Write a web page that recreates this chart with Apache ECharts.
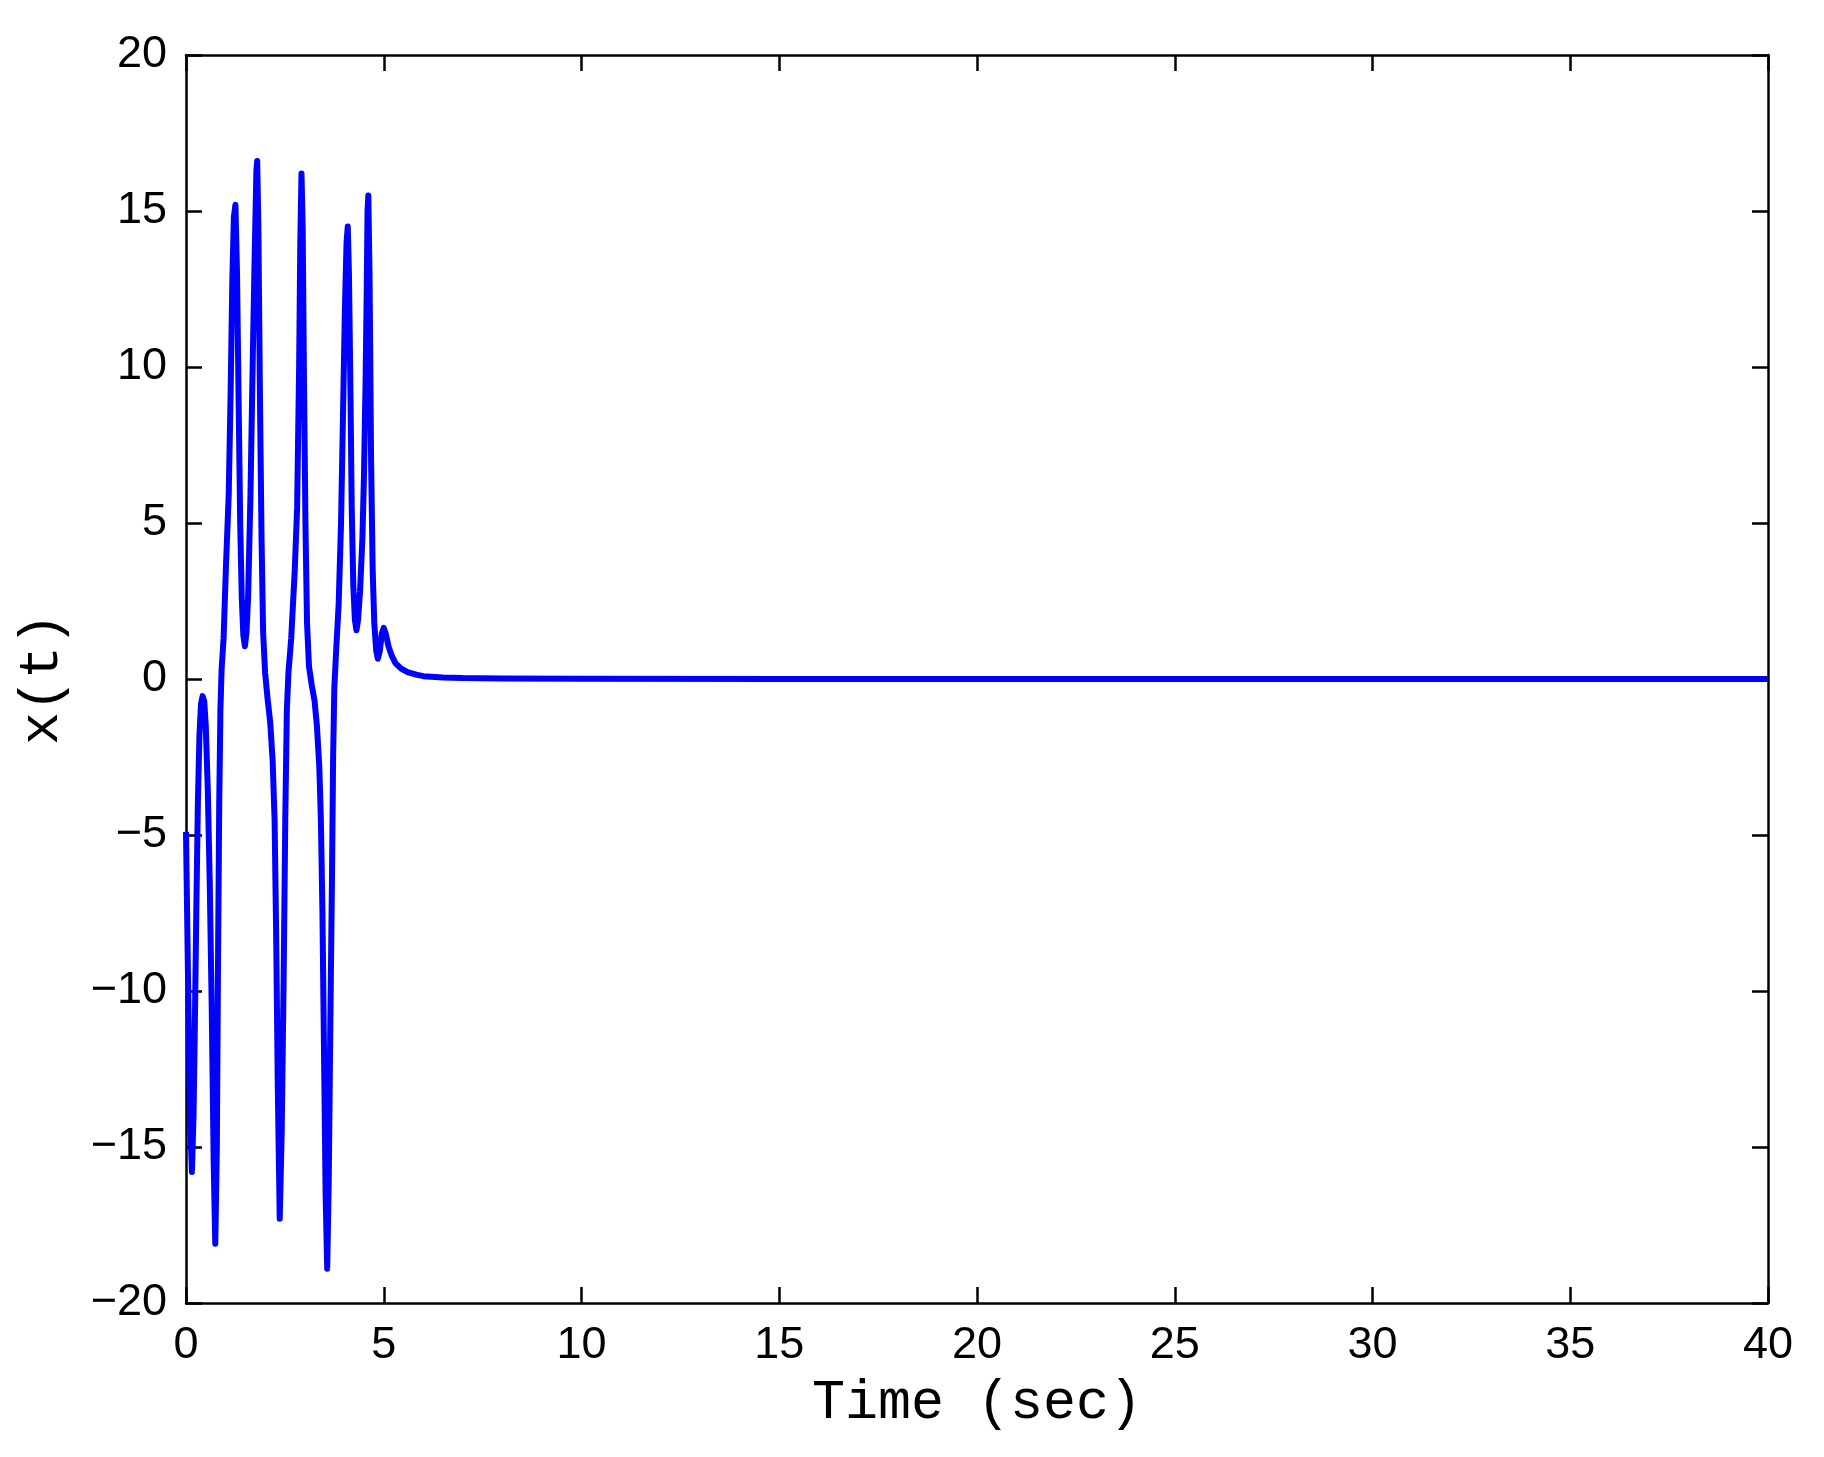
<!DOCTYPE html>
<html>
<head>
<meta charset="utf-8">
<script src="https://cdn.jsdelivr.net/npm/echarts@6/dist/echarts.min.js"></script>
<style>
  html, body { margin: 0; padding: 0; background: #fff; }
  #chart { width: 1824px; height: 1457px; }
</style>
</head>
<body>
<div id="chart"></div>
<script>
// time samples (sec) and x(t)
var time = [
  0, 0.05, 0.10, 0.15, 0.19, 0.22, 0.26, 0.30, 0.34, 0.38, 0.42, 0.46, 0.50, 0.55, 0.60, 0.65, 0.70, 0.74,
  0.78, 0.81, 0.84, 0.87, 0.90, 0.95, 1.01, 1.08, 1.13, 1.17, 1.21, 1.25, 1.29, 1.33, 1.37, 1.41, 1.45, 1.49,
  1.53, 1.57, 1.63, 1.69, 1.74, 1.78, 1.80, 1.83, 1.87, 1.91, 1.95, 2.00, 2.06, 2.13, 2.19, 2.24, 2.28, 2.32,
  2.37, 2.42, 2.47, 2.51, 2.55, 2.59, 2.66, 2.75, 2.81, 2.86, 2.89, 2.92, 2.95, 2.98, 3.02, 3.06, 3.11, 3.18,
  3.25, 3.31, 3.37, 3.41, 3.45, 3.49, 3.53, 3.57, 3.61, 3.65, 3.69, 3.72, 3.75, 3.80, 3.86, 3.92, 3.97, 4.02,
  4.06, 4.09, 4.12, 4.16, 4.19, 4.23, 4.27, 4.31, 4.35, 4.40, 4.46, 4.50, 4.54, 4.57, 4.59, 4.61, 4.64, 4.68,
  4.72, 4.76, 4.81, 4.85, 4.90, 4.95, 5.00, 5.05, 5.12, 5.20, 5.30, 5.44, 5.60, 5.82, 6.0, 6.5, 7.0, 8.0,
  10.0, 15.0, 40.0
];
var xt = [
  -4.9, -9.5, -14.0, -15.8, -14.0, -11.5, -7.5, -4.0, -1.8, -0.8, -0.55, -0.7, -1.5, -3.5, -6.5, -10.5, -15.5, -18.1,
  -15.0, -9.0, -4.0, -1.0, 0.3, 1.3, 3.6, 5.9, 9.3, 12.7, 14.8, 15.2, 13.0, 9.0, 5.0, 2.6, 1.4, 1.05,
  1.5, 2.6, 5.9, 10.4, 13.8, 16.3, 16.6, 14.5, 9.0, 4.5, 1.5, 0.2, -0.6, -1.4, -2.6, -4.5, -8.2, -13.0,
  -17.3, -14.5, -9.5, -4.5, -1.0, 0.2, 1.3, 3.5, 5.5, 10.0, 14.0, 16.2, 14.5, 10.0, 5.0, 1.8, 0.4, -0.2,
  -0.7, -1.5, -2.8, -4.5, -7.5, -12.0, -16.5, -18.9, -16.0, -11.0, -6.5, -2.5, -0.3, 1.0, 2.4, 5.0, 8.5, 12.0,
  14.0, 14.5, 13.0, 9.0, 5.5, 3.0, 1.9, 1.56, 1.9, 2.8, 4.5, 6.5, 9.5, 12.5, 15.0, 15.5, 13.0, 7.0,
  3.5, 1.8, 0.9, 0.65, 0.9, 1.45, 1.64, 1.45, 1.05, 0.75, 0.5, 0.33, 0.22, 0.14, 0.09, 0.05, 0.03, 0.02,
  0.01, 0, 0
];
var xTicks = [0, 40, 5];   // min, max, step
var yTicks = [-20, 20, 5];

var tickFont = 'Liberation Sans, Arial, Helvetica, sans-serif';
var monoFont = 'Liberation Mono, Courier New, monospace';

function minusSign(v) {
  return String(v).replace('-', '\u2212');
}

var chart = echarts.init(document.getElementById('chart'), null, { renderer: 'canvas' });

var axisLine = { show: true, onZero: false, lineStyle: { color: '#000', width: 2.5 } };
var axisTick = { show: true, inside: true, length: 16, lineStyle: { color: '#000', width: 2.5 } };

var seriesData = time.map(function (t, i) { return [t, xt[i]]; });

chart.setOption({
  backgroundColor: '#fff',
  animation: false,
  grid: { left: 186, right: 56, top: 55, bottom: 154, containLabel: false },
  xAxis: [
    {
      type: 'value', position: 'bottom',
      min: xTicks[0], max: xTicks[1], interval: xTicks[2],
      axisLine: axisLine, axisTick: axisTick, splitLine: { show: false },
      axisLabel: { color: '#000', fontFamily: tickFont, fontSize: 45, lineHeight: 45, margin: 20 },
      name: 'Time (sec)', nameLocation: 'middle', nameGap: 73,
      nameTextStyle: { color: '#000', fontFamily: monoFont, fontSize: 55, lineHeight: 55 }
    },
    {
      type: 'value', position: 'top',
      min: xTicks[0], max: xTicks[1], interval: xTicks[2],
      axisLine: axisLine, axisTick: axisTick, splitLine: { show: false },
      axisLabel: { show: false }
    }
  ],
  yAxis: [
    {
      type: 'value', position: 'left',
      min: yTicks[0], max: yTicks[1], interval: yTicks[2],
      axisLine: axisLine, axisTick: axisTick, splitLine: { show: false },
      axisLabel: { color: '#000', fontFamily: tickFont, fontSize: 45, margin: 19, formatter: minusSign },
      name: 'x(t)', nameLocation: 'middle', nameGap: 116,
      nameTextStyle: { color: '#000', fontFamily: monoFont, fontSize: 55, lineHeight: 55 }
    },
    {
      type: 'value', position: 'right',
      min: yTicks[0], max: yTicks[1], interval: yTicks[2],
      axisLine: axisLine, axisTick: axisTick, splitLine: { show: false },
      axisLabel: { show: false }
    }
  ],
  series: [
    {
      type: 'line',
      xAxisIndex: 0, yAxisIndex: 0,
      data: seriesData,
      showSymbol: false,
      smooth: false,
      lineStyle: { color: '#0000ff', width: 6, join: 'round' }
    }
  ]
});
</script>
</body>
</html>
